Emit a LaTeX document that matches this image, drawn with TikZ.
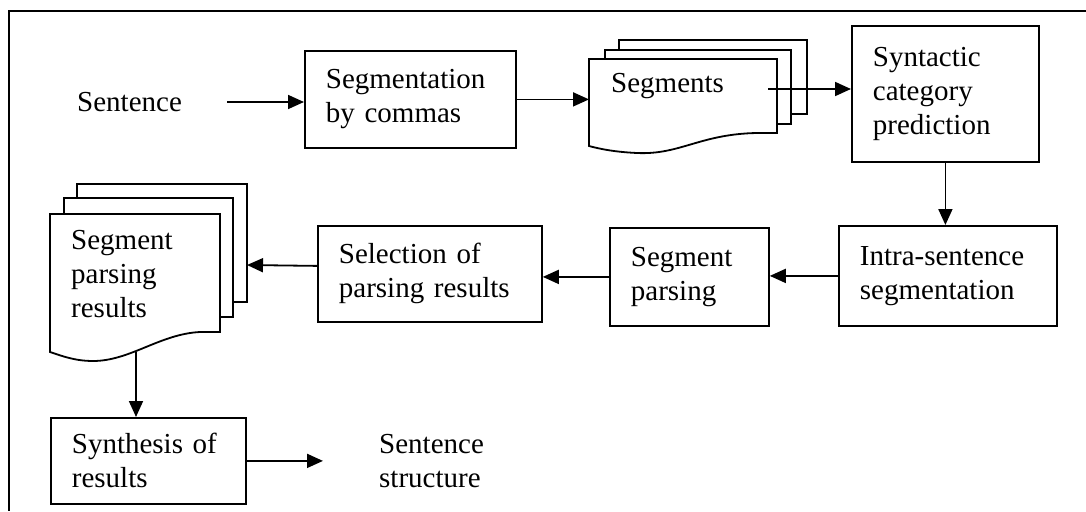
\documentclass[tikz,border=0pt]{standalone}
\usepackage{fontspec}
\setmainfont{Liberation Serif}
\usetikzlibrary{arrows.meta}
\tikzset{
  every node/.style={font=\fontsize{29}{34}\selectfont},
  box/.style={draw, line width=1.8pt, align=left, anchor=north west, inner xsep=21pt, inner ysep=0pt},
  page/.style={draw, fill=white, line width=1.8pt},
  label/.style={anchor=west, inner sep=0pt, align=left},
  arr/.style={-{Triangle[length=16pt,width=14pt]}, line width=1.8pt},
}
\begin{document}
\begin{tikzpicture}[x=1pt, y=-1pt]
  \useasboundingbox (0,0) rectangle (1086,511);
  \draw[line width=1.8pt] (1086,11) -- (9,11) -- (9,511);

  \node[label] (sent) at (77,102) {Sentence};
  \node[box, text width=169pt, minimum height=97pt] (segc) at (304,50) {Segmentation\\by commas};
  \node[box, text width=145pt, minimum height=136pt] (syn) at (851,25) {Syntactic\\category\\prediction};
  \node[box, text width=176pt, minimum height=100pt] (intra) at (838,225) {Intra-sentence\\segmentation};
  \node[box, text width=117pt, minimum height=98pt] (segp) at (609,227) {Segment\\parsing};
  \node[box, text width=182pt, minimum height=96pt] (sel) at (317,225) {Selection of\\parsing results};
  \node[box, text width=153pt, minimum height=86pt] (synth) at (50,417) {Synthesis of\\results};
  \node[label] (sstruct) at (379,461) {Sentence\\structure};

  \filldraw[page] (619,40) rectangle (807,114);
  \filldraw[page] (605,50) rectangle (791,124);
  \filldraw[page] (589,59) -- (777,59) -- (777,133) -- (757,133)
    .. controls (700,134) and (680,155) .. (637,153)
    .. controls (615,152) and (600,149) .. (589,146) -- cycle;
  \node[label] (segs) at (611,86) {Segments};
  \coordinate (segsin) at (589,97);
  \coordinate (segsout) at (768,89);

  \filldraw[page] (77,184) rectangle (247,302);
  \filldraw[page] (64,198) rectangle (233,317);
  \filldraw[page] (50,214) -- (220,214) -- (220,332) -- (200,332)
    .. controls (160,334) and (130,361) .. (93,361)
    .. controls (75,361) and (62,356) .. (50,352) -- cycle;
  \node[label] (spr) at (71,274) {Segment\\parsing\\results};
  \coordinate (sprin) at (247,265);
  \coordinate (sprout) at (136,352);

  \draw[arr, shorten <=45pt] (sent.east) -- (sent.east -| segc.west);
  \draw[arr] (segc.east) -- (segc.east -| segsin);
  \draw[arr] (segsout) -- (segsout -| syn.west);
  \draw[arr] (syn.south) -- (syn.south |- intra.north);
  \draw[arr] (intra.west) -- (intra.west -| segp.east);
  \draw[arr] (segp.west) -- (segp.west -| sel.east);
  \draw[arr] ([yshift=8pt]sel.west) -- (sprin);
  \draw[arr] (sprout) -- (sprout |- synth.north);
  \draw[arr, shorten >=56pt] (synth.east) -- (synth.east -| sstruct.west);
\end{tikzpicture}
\end{document}
